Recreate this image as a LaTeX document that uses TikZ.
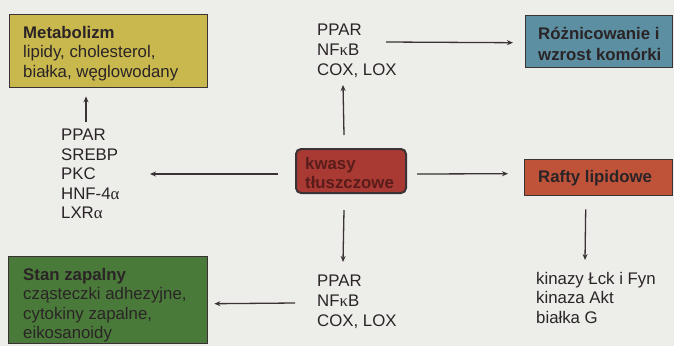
\documentclass[tikz,border=0pt]{standalone}
\usepackage{fontspec}
\setmainfont{Liberation Sans}
\newfontfamily\grk{Liberation Serif}
\usetikzlibrary{arrows.meta,calc}
\definecolor{bg}{HTML}{EDEDEA}
\definecolor{cmeta}{HTML}{C9B84E}
\definecolor{croz}{HTML}{5C8FA2}
\definecolor{craft}{HTML}{BF533A}
\definecolor{ckwas}{HTML}{A83A33}
\definecolor{cstan}{HTML}{4A7A3A}
\definecolor{cline}{HTML}{3A3234}
\definecolor{ctext}{HTML}{2A2426}
\definecolor{ckwtext}{HTML}{5A1C1A}
\begin{document}
\begin{tikzpicture}[x=1pt,y=-1pt,
  box/.style={draw=cline,line width=1.4pt,anchor=north west,inner sep=0pt},
  txt/.style={anchor=north west,inner sep=0pt,align=left,text=ctext,
    font=\fontsize{16.8}{19.5}\selectfont},
  arr/.style={draw=cline,line width=1.3pt,-{Stealth[length=6pt,width=5pt]}}]
\useasboundingbox[fill=bg] (0,0) rectangle (674,346);
% boxes
\node[box,fill=cmeta,minimum width=198pt,minimum height=73pt] (meta) at (9,14) {};
\node[box,fill=croz,minimum width=147pt,minimum height=52pt] (roz) at (525,15) {};
\node[box,fill=craft,minimum width=148pt,minimum height=36pt] (rafty) at (524,159) {};
\node[box,fill=ckwas,line width=2pt,rounded corners=5pt,minimum width=110pt,minimum height=44pt] (kwasy) at (295,148) {};
\node[box,fill=cstan,minimum width=199pt,minimum height=87pt] (stan) at (8,256) {};
% box texts
\node[txt] (metat) at (23,26) {\textbf{Metabolizm}\\lipidy, cholesterol,\\białka, węglowodany};
\node[txt,font=\bfseries\fontsize{16.8}{21}\selectfont] (rozt) at (538,26.5) {Różnicowanie i\\wzrost komórki};
\node[txt,font=\bfseries\fontsize{16.8}{19.5}\selectfont] (raftyt) at (538,170) {Rafty lipidowe};
\node[txt,text=ckwtext,font=\bfseries\fontsize{16.8}{19}\selectfont] (kwasyt) at (305,157) {kwasy\\tłuszczowe};
\node[txt] (stant) at (23,268) {\textbf{Stan zapalny}\\cząsteczki adhezyjne,\\cytokiny zapalne,\\eikosanoidy};
% lists
\node[txt] (L1) at (61,129) {PPAR\\SREBP\\PKC\\HNF-4{\grk α}\\LXR{\grk α}};
\node[txt,font=\fontsize{16.8}{20}\selectfont] (T) at (317,24) {PPAR\\NF{\grk κ}B\\COX, LOX};
\node[txt,font=\fontsize{16.8}{20}\selectfont] (B) at (317,275) {PPAR\\NF{\grk κ}B\\COX, LOX};
\node[txt] (K) at (536,272) {kinazy Łck i Fyn\\kinaza Akt\\białka G};
% connectors
\draw[arr] ($(kwasy.west)+(-17,3)$) -- ($(L1.west|-kwasy.west)+(89,3)$);
\draw[arr] ($(L1.north west)+(25,-7)$) -- ($(meta.south west)+(77,8)$);
\draw[arr] ($(kwasy.north)+(-7,-13)$) -- ($(T.north west)+(26,61)$);
\draw[arr] ($(T.north west)+(69,18)$) -- ($(roz.west)+(-12,1)$);
\draw[arr] ($(kwasy.east)+(10,3)$) -- ($(rafty.west)+(-16,-4)$);
\draw[arr] ($(kwasy.south)+(-7,16)$) -- ($(B.north west)+(26,-13)$);
\draw[arr] ($(B.north west)+(-22,28)$) -- ($(stan.east)+(6,3.5)$);
\draw[arr] ($(rafty.south)+(-13,13)$) -- ($(K.north west)+(49,-12)$);
\end{tikzpicture}
\end{document}
